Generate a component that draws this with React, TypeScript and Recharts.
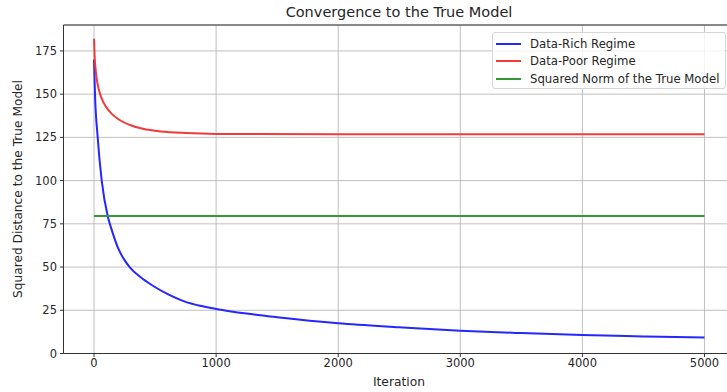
import {
  LineChart,
  Line,
  XAxis,
  YAxis,
  CartesianGrid,
  ReferenceArea,
} from "recharts";

// values
const richIters = [0, 8, 30, 63, 112, 145, 200, 250, 295, 380, 472, 600, 745, 870, 1000, 1250, 1500, 2000, 2500, 3000, 3500, 4000, 4500, 5000];
const richValues = [170, 150, 125, 100, 79.5, 71.5, 60.5, 54, 49.7, 44.2, 39.6, 34.5, 30, 27.6, 25.8, 23.1, 21, 17.5, 15.2, 13.2, 11.8, 10.7, 9.9, 9.2];

const poorIters = [0, 5, 15, 30, 50, 75, 100, 150, 200, 300, 400, 550, 750, 1000, 2000, 3000, 4000, 5000];
const poorValues = [182, 172, 163, 155.5, 150, 145.5, 142.5, 138.3, 135.5, 132, 130, 128.4, 127.5, 127, 126.8, 126.8, 126.8, 126.8];

const trueIters = [0, 5000];
const trueValues = [79.5, 79.5];

const xTicks = [0, 1000, 2000, 3000, 4000, 5000];
const yTicks = [0, 25, 50, 75, 100, 125, 150, 175];

const seriesNames = ["Data-Rich Regime", "Data-Poor Regime", "Squared Norm of the True Model"];
const seriesColors = ["#2626ff", "#f23a3a", "#349834"];

const toPoints = (xs: number[], ys: number[]) => xs.map((x, i) => ({ x, y: ys[i] }));

const richData = toPoints(richIters, richValues);
const poorData = toPoints(poorIters, poorValues);
const trueData = toPoints(trueIters, trueValues);

const FONT = "'DejaVu Sans', sans-serif";
const TEXT = "#262626";

function LegendBox() {
  return (
    <div
      style={{
        position: "absolute",
        left: 492,
        top: 32,
        width: 234,
        height: 57,
        boxSizing: "border-box",
        border: "1px solid #d6d6d6",
        borderRadius: 3,
        background: "rgba(255,255,255,0.8)",
        padding: "2px 3px",
        fontSize: 11.7,
        color: TEXT,
        whiteSpace: "nowrap",
      }}
    >
      {seriesNames.map((name, i) => (
        <div key={name} style={{ display: "flex", alignItems: "center", height: 17.5 }}>
          <span style={{ display: "inline-block", width: 25, height: 2, background: seriesColors[i], marginRight: 9 }} />
          <span>{name}</span>
        </div>
      ))}
    </div>
  );
}

export default function App() {
  return (
    <div
      style={{
        position: "absolute",
        left: 0,
        top: 0,
        width: 727,
        height: 392,
        overflow: "hidden",
        background: "#fff",
        fontFamily: FONT,
      }}
    >
      <div
        style={{
          position: "absolute",
          top: 4,
          left: 63.5,
          width: 671,
          textAlign: "center",
          fontSize: 14.5,
          color: TEXT,
        }}
      >
        Convergence to the True Model
      </div>
      <div
        style={{
          position: "absolute",
          top: 375,
          left: 63.5,
          width: 671,
          textAlign: "center",
          fontSize: 12.3,
          color: TEXT,
        }}
      >
        Iteration
      </div>
      <div
        style={{
          position: "absolute",
          left: 18,
          top: 189,
          transform: "translate(-50%, -50%) rotate(-90deg)",
          whiteSpace: "nowrap",
          fontSize: 12.2,
          color: TEXT,
        }}
      >
        Squared Distance to the True Model
      </div>
      <LineChart width={760} height={392} margin={{ top: 25, right: 25, bottom: 8.5, left: 0 }}>
        <CartesianGrid stroke="#b0b0b0" strokeWidth={0.8} />
        <XAxis
          type="number"
          dataKey="x"
          domain={[-250, 5250]}
          ticks={xTicks}
          allowDataOverflow
          height={30}
          tickSize={3.5}
          tickMargin={2}
          stroke="#333"
          tick={{ fill: TEXT, fontSize: 11.5 }}
        />
        <YAxis
          type="number"
          domain={[0, 190]}
          ticks={yTicks}
          allowDataOverflow
          width={63.5}
          tickSize={3.5}
          tickMargin={3}
          stroke="#333"
          tick={{ fill: TEXT, fontSize: 11.5 }}
        />
        <Line
          data={richData}
          dataKey="y"
          name={seriesNames[0]}
          type="monotone"
          stroke={seriesColors[0]}
          strokeWidth={2}
          dot={false}
          isAnimationActive={false}
        />
        <Line
          data={poorData}
          dataKey="y"
          name={seriesNames[1]}
          type="monotone"
          stroke={seriesColors[1]}
          strokeWidth={2}
          dot={false}
          isAnimationActive={false}
        />
        <Line
          data={trueData}
          dataKey="y"
          name={seriesNames[2]}
          type="linear"
          stroke={seriesColors[2]}
          strokeWidth={2}
          dot={false}
          isAnimationActive={false}
        />
        <ReferenceArea x1={-250} x2={5250} y1={0} y2={190} stroke="#333" strokeWidth={1} fill="none" fillOpacity={0} />
      </LineChart>
      <LegendBox />
    </div>
  );
}
